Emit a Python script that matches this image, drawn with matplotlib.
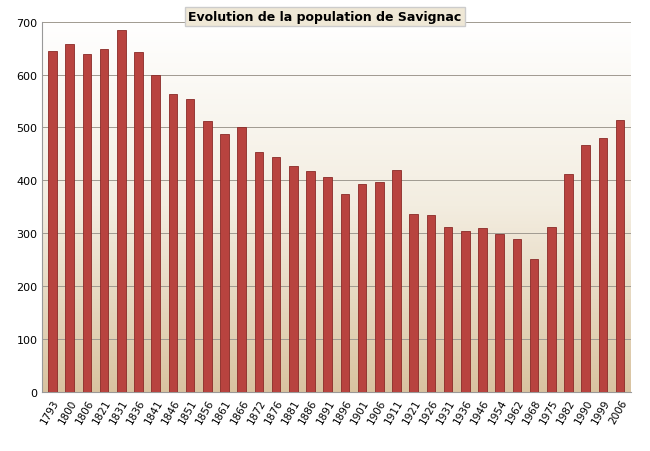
import matplotlib.pyplot as plt
import numpy as np

years = ["1793", "1800", "1806", "1821", "1831", "1836", "1841", "1846", "1851", "1856",
         "1861", "1866", "1872", "1876", "1881", "1886", "1891", "1896", "1901", "1906",
         "1911", "1921", "1926", "1931", "1936", "1946", "1954", "1962", "1968", "1975",
         "1982", "1990", "1999", "2006"]
population = [645, 658, 639, 649, 685, 643, 600, 563, 554, 512,
              487, 500, 453, 444, 427, 417, 406, 375, 393, 398,
              419, 336, 335, 313, 304, 311, 298, 289, 252, 313,
              413, 466, 480, 514]
y_ticks = [0, 100, 200, 300, 400, 500, 600, 700]

fig = plt.figure(figsize=(6.5, 4.52), dpi=100)
ax = fig.add_axes([0.065, 0.13, 0.905, 0.82])

# background gradient: white at top to tan at bottom
grad = np.linspace(0, 1, 256).reshape(-1, 1)
from matplotlib.colors import LinearSegmentedColormap
cmap = LinearSegmentedColormap.from_list("bg", ["#ffffff", "#f3ede0", "#d9c3a0"])
ax.imshow(grad, aspect="auto", cmap=cmap, extent=[-0.6, len(years) - 0.4, 0, 700],
          origin="upper", zorder=0)

x = np.arange(len(years))
ax.bar(x, population, width=0.5, color="#b8433f", edgecolor="#8a2a27", linewidth=0.6, zorder=3)

ax.set_xlim(-0.6, len(years) - 0.4)
ax.set_ylim(0, 700)
ax.set_yticks(y_ticks)
ax.grid(axis="y", color="#a09a90", linewidth=0.7, zorder=1)
ax.set_xticks(x)
ax.set_xticklabels(years, rotation=60, ha="right", fontsize=7.5, rotation_mode="anchor")
ax.tick_params(axis="y", labelsize=8, length=0)
ax.tick_params(axis="x", length=0)
for s in ["top", "right"]:
    ax.spines[s].set_visible(False)
ax.spines["left"].set_color("#999999")
ax.spines["bottom"].set_color("#999999")

fig.text(0.5, 0.962, "Evolution de la population de Savignac", ha="center", va="center",
         fontsize=9, fontweight="bold",
         bbox=dict(boxstyle="square,pad=0.25", facecolor="#efe8d6", edgecolor="#cccccc"))

fig.savefig("out.png", dpi=100)
